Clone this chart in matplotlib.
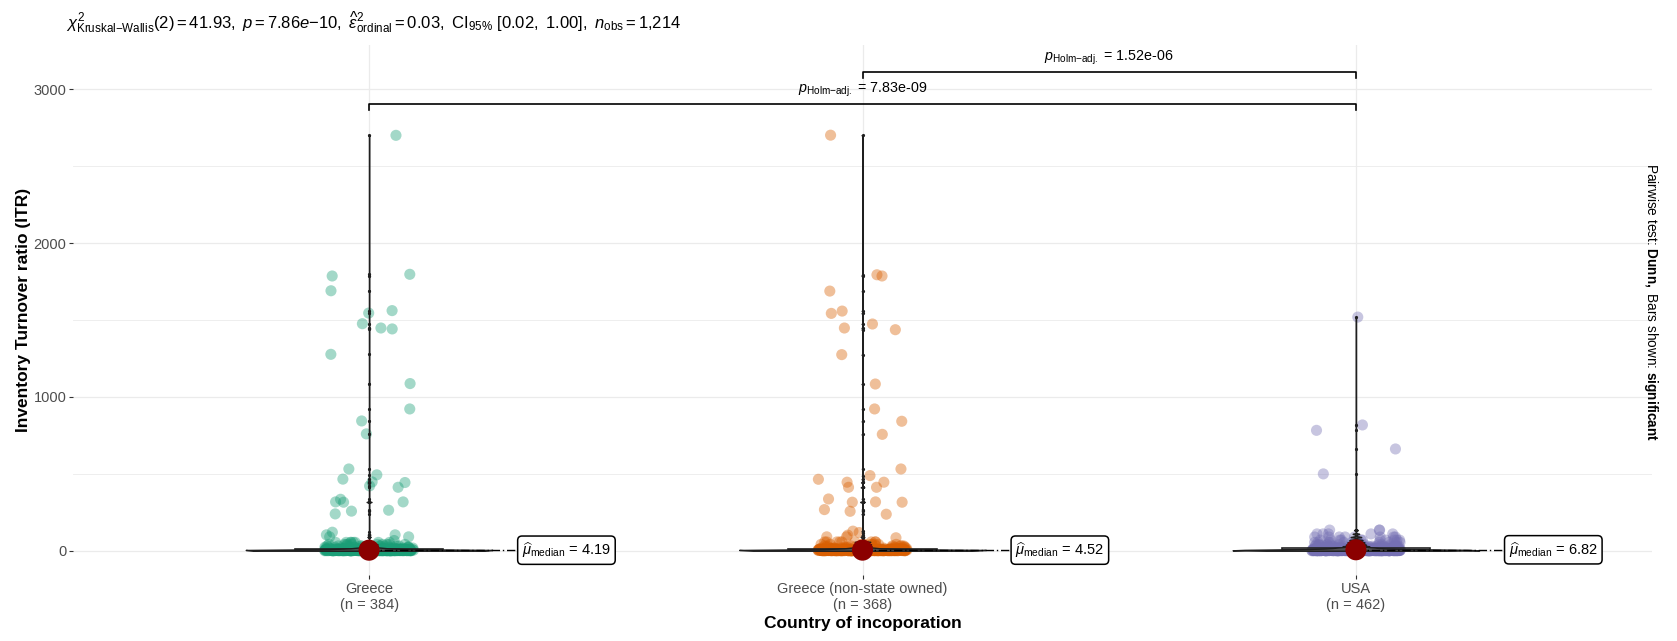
import numpy as np
import matplotlib
matplotlib.use("Agg")
import matplotlib.pyplot as plt

plt.rcParams['font.family'] = ['Liberation Sans', 'DejaVu Sans']
plt.rcParams['mathtext.fontset'] = 'custom'
plt.rcParams['mathtext.rm'] = 'Liberation Sans'
plt.rcParams['mathtext.it'] = 'Liberation Sans:italic'
plt.rcParams['mathtext.bf'] = 'Liberation Sans:bold'

# groups and counts
groups = ["Greece", "Greece (non-state owned)", "USA"]
n_obs = [384, 368, 462]
colors = ["#1B9E77", "#D95F02", "#7570B3"]
medians = [4.19, 4.52, 6.82]

# large values
greece_high = [2700, 1797, 1786, 1690, 1561, 1545, 1476, 1448, 1442, 1277, 1087,
               922, 844, 760, 532, 494, 466, 448, 444, 422, 413, 335, 318, 318,
               316, 264, 258, 240, 121, 104, 104, 91, 91, 67]
greece_ns_high = [2701, 1794, 1786, 1688, 1558, 1543, 1474, 1448, 1437, 1275, 1084,
                  922, 842, 757, 532, 489, 465, 446, 446, 413, 413, 337, 318, 316,
                  316, 268, 257, 238, 128, 119, 102, 91, 91, 85]
usa_high = [1519, 818, 783, 662, 500]

# bulk near zero (value, count)
greece_low_vals = [0.5, 1.5, 2.5, 3.5, 4.2, 5, 6, 7.5, 9, 11, 14, 18, 24, 32, 42, 55]
greece_low_cnt = [40, 35, 35, 40, 45, 10, 22, 20, 18, 16, 15, 14, 12, 10, 10, 8]
greece_ns_low_vals = [0.5, 1.5, 2.5, 3.5, 4.5, 5, 6, 7.5, 9, 11, 14, 18, 24, 32, 42, 58]
greece_ns_low_cnt = [38, 32, 33, 38, 44, 12, 20, 18, 17, 15, 14, 13, 11, 10, 10, 9]
usa_low_vals = [0.5, 2, 3.5, 5, 6.8, 8, 10, 13, 17, 22, 30, 40, 55, 70, 90, 110, 135]
usa_low_cnt = [55, 50, 45, 45, 45, 35, 30, 28, 25, 22, 20, 16, 14, 11, 8, 5, 3]

# pairwise comparisons (group i, group j, y of bar, label)
pair_i = [1, 2]
pair_j = [3, 3]
pair_y = [2903, 3111]
pair_p = ["7.83e-09", "1.52e-06"]

data = [
    np.concatenate([np.repeat(greece_low_vals, greece_low_cnt), greece_high]),
    np.concatenate([np.repeat(greece_ns_low_vals, greece_ns_low_cnt), greece_ns_high]),
    np.concatenate([np.repeat(usa_low_vals, usa_low_cnt), usa_high]),
]

fig = plt.figure(figsize=(16.77, 6.41), dpi=100)
ax = fig.add_axes([73/1677, 1-575/641, (1652-73)/1677, (575-45)/641])
pos = [1, 2, 3]

# jittered points
rng = np.random.default_rng(3)
for i in range(3):
    jit = rng.uniform(-0.09, 0.09, len(data[i]))
    ax.scatter(pos[i] + jit, data[i], s=64, color=colors[i], alpha=0.4,
               edgecolors='none', zorder=2)

# boxplot
bp = ax.boxplot(data, positions=pos, widths=0.3, patch_artist=True, showcaps=False,
                boxprops=dict(facecolor=(1, 1, 1, 0.2), edgecolor='#222222', linewidth=1.2),
                medianprops=dict(color='#222222', linewidth=1.6),
                whiskerprops=dict(color='#222222', linewidth=1.1),
                flierprops=dict(marker='o', markersize=2.3, markerfacecolor='#222222',
                                markeredgecolor='none'),
                zorder=3, manage_ticks=False)

# violins with R's default bandwidth
for i in range(3):
    d = data[i]
    sd = np.std(d, ddof=1)
    iqr = np.percentile(d, 75) - np.percentile(d, 25)
    bw = 0.9 * min(sd, iqr / 1.34) * len(d) ** (-0.2)
    vp = ax.violinplot([d], positions=[pos[i]], widths=0.5, showextrema=False,
                       bw_method=bw / sd, points=512)
    for b in vp['bodies']:
        b.set_alpha(None)
        b.set_facecolor((1, 1, 1, 0.2))
        b.set_edgecolor((0.12, 0.12, 0.12, 1))
        b.set_linewidth(1.0)
        b.set_zorder(4)

# medians + labels
ax.scatter(pos, medians, s=230, color='darkred', zorder=6, edgecolors='none')
for i in range(3):
    ax.plot([pos[i], pos[i] + 0.4], [medians[i], medians[i]], color='black', lw=1.0,
            ls=(0, (6, 2, 1, 2)), zorder=5)
    ax.text(pos[i] + 0.4, medians[i], r'$\widehat{\mu}_{\mathrm{median}}$' + ' = %.2f' % medians[i],
            ha='center', va='center', fontsize=10.5, zorder=7,
            bbox=dict(boxstyle='round,pad=0.3,rounding_size=0.3', fc='white', ec='black', lw=1.1))

# pairwise bars
for k in range(len(pair_y)):
    y = pair_y[k]
    tip = 40
    ax.plot([pair_i[k], pair_i[k], pair_j[k], pair_j[k]], [y - tip, y, y, y - tip],
            color='black', lw=1.2, zorder=5)
    ax.text((pair_i[k] + pair_j[k]) / 2, y + 30,
            r'$\mathit{p}_{\mathrm{Holm{-}adj.}}$' + ' = ' + pair_p[k],
            ha='center', va='bottom', fontsize=10.3)

# axes styling
ax.set_xlim(0.4, 3.6)
ax.set_ylim(-157, 3287)
ax.set_yticks([0, 1000, 2000, 3000])
ax.set_yticks([500, 1500, 2500], minor=True)
ax.set_xticks(pos)
ax.set_xticklabels(["%s\n(n = %d)" % (g, n) for g, n in zip(groups, n_obs)])
ax.grid(which='major', color='#EBEBEB', lw=0.9, zorder=0)
ax.grid(which='minor', axis='y', color='#EBEBEB', lw=0.6, zorder=0)
ax.set_axisbelow(True)
for s in ax.spines.values():
    s.set_visible(False)
ax.tick_params(axis='both', which='major', length=2.7, color='#333333',
               labelcolor='#4D4D4D', labelsize=10.5, pad=2)
ax.tick_params(which='minor', length=0)
ax.set_xlabel("Country of incoporation", fontsize=12.5, fontweight='bold', labelpad=3)
ax.set_ylabel("Inventory Turnover ratio (ITR)", fontsize=12.5, fontweight='bold', labelpad=2)

# subtitle
fig.text(66/1677, 1 - 22/641,
         r'$\chi^2_{\mathrm{Kruskal{-}Wallis}}(2) = 41.93,\ \mathit{p} = 7.86e{-}10,\ '
         r'\widehat{\epsilon}^2_{\mathrm{ordinal}} = 0.03,\ \mathrm{CI}_{95\%}\ [0.02,\ 1.00],\ '
         r'\mathit{n}_{\mathrm{obs}} = 1{,}214$',
         fontsize=12, ha='left', va='center')

# right caption
fig.text(1651/1677, (1 - 302/641),
         r'Pairwise test: $\mathbf{Dunn,}$ Bars shown: $\mathbf{significant}$',
         rotation=-90, fontsize=9.8, ha='center', va='center')

fig.savefig("out.png", dpi=100)
